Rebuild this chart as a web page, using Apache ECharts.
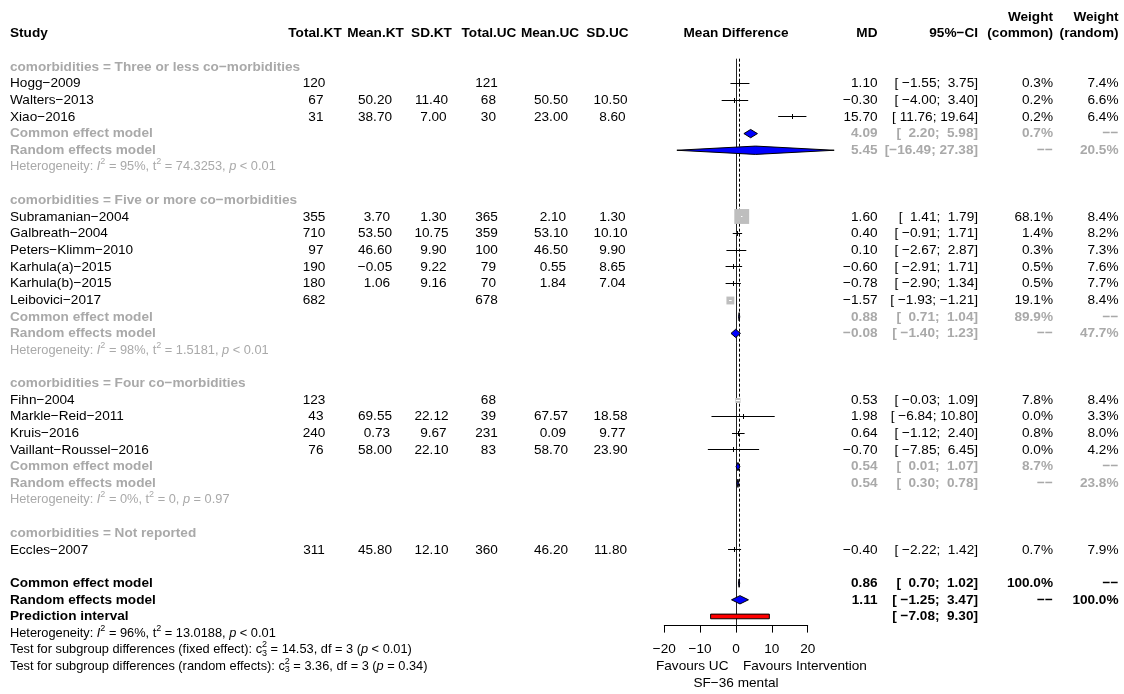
<!DOCTYPE html>
<html>
<head>
<meta charset="utf-8">
<script src="https://cdn.jsdelivr.net/npm/echarts@6/dist/echarts.min.js"></script>
<style>
  html, body { margin: 0; padding: 0; background: #fff; }
  #chart { width: 1124px; height: 694px; }
</style>
</head>
<body>
<div id="chart"></div>
<script>
// ---- Study data: SF-36 mental, mean difference (intervention vs usual care) ----
const groupTitles = ['Three or less co\u2212morbidities', 'Five or more co\u2212morbidities', 'Four co\u2212morbidities', 'Not reported'];
const studyNames = ['Hogg\u22122009', 'Walters\u22122013', 'Xiao\u22122016',
  'Subramanian\u22122004', 'Galbreath\u22122004', 'Peters\u2212Klimm\u22122010', 'Karhula(a)\u22122015', 'Karhula(b)\u22122015', 'Leibovici\u22122017',
  'Fihn\u22122004', 'Markle\u2212Reid\u22122011', 'Kruis\u22122016', 'Vaillant\u2212Roussel\u22122016',
  'Eccles\u22122007'];
const studyGroup = [0, 0, 0, 1, 1, 1, 1, 1, 1, 2, 2, 2, 2, 3];
const totalKT = [120, 67, 31, 355, 710, 97, 190, 180, 682, 123, 43, 240, 76, 311];
const meanKT  = [null, 50.20, 38.70, 3.70, 53.50, 46.60, -0.05, 1.06, null, null, 69.55, 0.73, 58.00, 45.80];
const sdKT    = [null, 11.40, 7.00, 1.30, 10.75, 9.90, 9.22, 9.16, null, null, 22.12, 9.67, 22.10, 12.10];
const totalUC = [121, 68, 30, 365, 359, 100, 79, 70, 678, 68, 39, 231, 83, 360];
const meanUC  = [null, 50.50, 23.00, 2.10, 53.10, 46.50, 0.55, 1.84, null, null, 67.57, 0.09, 58.70, 46.20];
const sdUC    = [null, 10.50, 8.60, 1.30, 10.10, 9.90, 8.65, 7.04, null, null, 18.58, 9.77, 23.90, 11.80];
const md      = [1.10, -0.30, 15.70, 1.60, 0.40, 0.10, -0.60, -0.78, -1.57, 0.53, 1.98, 0.64, -0.70, -0.40];
const ciLow   = [-1.55, -4.00, 11.76, 1.41, -0.91, -2.67, -2.91, -2.90, -1.93, -0.03, -6.84, -1.12, -7.85, -2.22];
const ciHigh  = [3.75, 3.40, 19.64, 1.79, 1.71, 2.87, 1.71, 1.34, -1.21, 1.09, 10.80, 2.40, 6.45, 1.42];
const wCommon = [0.3, 0.2, 0.2, 68.1, 1.4, 0.3, 0.5, 0.5, 19.1, 7.8, 0.0, 0.8, 0.0, 0.7];
const wRandom = [7.4, 6.6, 6.4, 8.4, 8.2, 7.3, 7.6, 7.7, 8.4, 8.4, 3.3, 8.0, 4.2, 7.9];

// subgroup summaries (null: single-study subgroup)
const subCommonMD   = [4.09, 0.88, 0.54, null];
const subCommonLow  = [2.20, 0.71, 0.01, null];
const subCommonHigh = [5.98, 1.04, 1.07, null];
const subCommonW    = [0.7, 89.9, 8.7, null];
const subRandomMD   = [5.45, -0.08, 0.54, null];
const subRandomLow  = [-16.49, -1.40, 0.30, null];
const subRandomHigh = [27.38, 1.23, 0.78, null];
const subRandomW    = [20.5, 47.7, 23.8, null];
const subI2   = [95, 98, 0, null];
const subTau2 = ['74.3253', '1.5181', '0', null];
const subP    = ['< 0.01', '< 0.01', '= 0.97', null];

// overall results
const overallCommon = [0.86, 0.70, 1.02];   // MD, lower, upper
const overallRandom = [1.11, -1.25, 3.47];
const predInterval  = [-7.08, 9.30];
const overallHet    = [96, '13.0188', '< 0.01'];   // I2, tau2, p
const testFixed     = ['14.53', 3, '< 0.01'];       // chi2, df, p
const testRandom    = ['3.36', 3, '= 0.34'];
const xTicks = [-20, -10, 0, 10, 20];

// ---- layout ----
const FONT = '"Liberation Sans", Arial, Helvetica, sans-serif';
const FS = 13.6, FS_SMALL = 12.8, FS_SUP = 9;
const GRAY = '#A9A9A9';
const ROW0 = 67, ROWH = 16.65;          // pixel y of row 0 and row pitch
const Y_MIN = -3, Y_MAX = 33.55;        // row range of the plotting grid
const X_LEFT = 664.3, X_RIGHT = 807.7;  // pixel extent of the x axis
const COL = { study: 10, totalKT: 314, meanKT: 375, sdKT: 431.5, totalUC: 486.5, meanUC: 551, sdUC: 610.5,
              md: 877.5, ci: 978, wCommon: 1053, wRandom: 1118.5 };
const HEAD = { totalKT: 315, meanKT: 375.5, sdKT: 431.5, totalUC: 489, meanUC: 550, sdUC: 607.5 };
const SQ_K = 1.8;   // square side = SQ_K * sqrt(weight)
const TICK_H = 5;   // estimate tick for very small squares

// ---- formatting ----
const MINUS = '\u2212';
const fmt2 = v => (v < 0 ? MINUS : '') + Math.abs(v).toFixed(2);
const fmtW = v => v.toFixed(1) + '%';
const DASH = MINUS + MINUS;
function padCol(arr, f) {
  const s = arr.map(v => v == null ? '' : f(v));
  const w = Math.max(...s.map(t => t.length));
  return s.map(t => t === '' ? '' : t.padStart(w));
}
const colTotalKT = padCol(totalKT, v => String(v));
const colMeanKT = padCol(meanKT, fmt2);
const colSdKT = padCol(sdKT, fmt2);
const colTotalUC = padCol(totalUC, v => String(v));
const colMeanUC = padCol(meanUC, fmt2);
const colSdUC = padCol(sdUC, fmt2);
const allLows = ciLow.concat(subCommonLow, subRandomLow, [overallCommon[1], overallRandom[1], predInterval[0]]).filter(v => v != null);
const allHighs = ciHigh.concat(subCommonHigh, subRandomHigh, [overallCommon[2], overallRandom[2], predInterval[1]]).filter(v => v != null);
const LOW_W = Math.max(...allLows.map(v => fmt2(v).length));
const HIGH_W = Math.max(...allHighs.map(v => fmt2(v).length));
const fmtCI = (lo, hi) => '[' + fmt2(lo).padStart(LOW_W) + '; ' + fmt2(hi).padStart(HIGH_W) + ']';

const hetText = (i2, tau2, p) => `Heterogeneity: {it|I}{sup|2} = ${i2}%, t{sup|2} = ${tau2}, {it|p} ${p}`;
const testText = (kind, t) => `Test for subgroup differences (${kind}): c{sup0|2}{sub|3} = ${t[0]}, df = ${t[1]} ({it|p} ${t[2]})`;

// ---- row structure ----
const textRows = [];     // {row, cells}
const studyMarks = [];   // [md, low, high, row, weight]
const diamonds = [];     // [md, low, high, row]
function cell(x, text, opt) {
  return Object.assign({ x: x, text: text, align: 'left', color: '#000', bold: false, size: FS }, opt || {});
}
const B = { bold: true };
textRows.push({ row: -3, cells: [
  cell(COL.wCommon, 'Weight', { align: 'right', bold: true }),
  cell(COL.wRandom, 'Weight', { align: 'right', bold: true })] });
textRows.push({ row: -2, cells: [
  cell(COL.study, 'Study', B),
  cell(HEAD.totalKT, 'Total.KT', { align: 'center', bold: true }),
  cell(HEAD.meanKT, 'Mean.KT', { align: 'center', bold: true }),
  cell(HEAD.sdKT, 'SD.KT', { align: 'center', bold: true }),
  cell(HEAD.totalUC, 'Total.UC', { align: 'center', bold: true }),
  cell(HEAD.meanUC, 'Mean.UC', { align: 'center', bold: true }),
  cell(HEAD.sdUC, 'SD.UC', { align: 'center', bold: true }),
  cell(null, 'Mean Difference', { xv: 0, dx: 0, align: 'center', bold: true }),
  cell(COL.md, 'MD', { align: 'right', bold: true }),
  cell(COL.ci, '95%' + MINUS + 'CI', { align: 'right', bold: true }),
  cell(COL.wCommon, '(common)', { align: 'right', bold: true }),
  cell(COL.wRandom, '(random)', { align: 'right', bold: true })] });

let r = 0;
groupTitles.forEach((title, g) => {
  textRows.push({ row: r, cells: [cell(COL.study, 'comorbidities = ' + title, { color: GRAY, bold: true })] });
  r++;
  studyNames.forEach((name, i) => {
    if (studyGroup[i] !== g) return;
    textRows.push({ row: r, cells: [
      cell(COL.study, name),
      cell(COL.totalKT, colTotalKT[i], { align: 'center' }),
      cell(COL.meanKT, colMeanKT[i], { align: 'center' }),
      cell(COL.sdKT, colSdKT[i], { align: 'center' }),
      cell(COL.totalUC, colTotalUC[i], { align: 'center' }),
      cell(COL.meanUC, colMeanUC[i], { align: 'center' }),
      cell(COL.sdUC, colSdUC[i], { align: 'center' }),
      cell(COL.md, fmt2(md[i]), { align: 'right' }),
      cell(COL.ci, fmtCI(ciLow[i], ciHigh[i]), { align: 'right' }),
      cell(COL.wCommon, fmtW(wCommon[i]), { align: 'right' }),
      cell(COL.wRandom, fmtW(wRandom[i]), { align: 'right' })] });
    studyMarks.push([md[i], ciLow[i], ciHigh[i], r, wCommon[i]]);
    r++;
  });
  if (subCommonMD[g] != null) {
    const gs = { color: GRAY, bold: true };
    const gr = { color: GRAY, bold: true, align: 'right' };
    textRows.push({ row: r, cells: [
      cell(COL.study, 'Common effect model', gs),
      cell(COL.md, fmt2(subCommonMD[g]), gr),
      cell(COL.ci, fmtCI(subCommonLow[g], subCommonHigh[g]), gr),
      cell(COL.wCommon, fmtW(subCommonW[g]), gr),
      cell(COL.wRandom, DASH, gr)] });
    diamonds.push([subCommonMD[g], subCommonLow[g], subCommonHigh[g], r]);
    r++;
    textRows.push({ row: r, cells: [
      cell(COL.study, 'Random effects model', gs),
      cell(COL.md, fmt2(subRandomMD[g]), gr),
      cell(COL.ci, fmtCI(subRandomLow[g], subRandomHigh[g]), gr),
      cell(COL.wCommon, DASH, gr),
      cell(COL.wRandom, fmtW(subRandomW[g]), gr)] });
    diamonds.push([subRandomMD[g], subRandomLow[g], subRandomHigh[g], r]);
    r++;
    textRows.push({ row: r, cells: [
      cell(COL.study, hetText(subI2[g], subTau2[g], subP[g]), { color: GRAY, size: FS_SMALL, rich: true })] });
    r++;
  }
  r++;  // blank line between subgroups
});

const commonRow = r;
const BR = { bold: true, align: 'right' };
textRows.push({ row: r, cells: [
  cell(COL.study, 'Common effect model', B),
  cell(COL.md, fmt2(overallCommon[0]), BR),
  cell(COL.ci, fmtCI(overallCommon[1], overallCommon[2]), BR),
  cell(COL.wCommon, fmtW(100), BR),
  cell(COL.wRandom, DASH, BR)] });
diamonds.push([overallCommon[0], overallCommon[1], overallCommon[2], r]);
r++;
textRows.push({ row: r, cells: [
  cell(COL.study, 'Random effects model', B),
  cell(COL.md, fmt2(overallRandom[0]), BR),
  cell(COL.ci, fmtCI(overallRandom[1], overallRandom[2]), BR),
  cell(COL.wCommon, DASH, BR),
  cell(COL.wRandom, fmtW(100), BR)] });
diamonds.push([overallRandom[0], overallRandom[1], overallRandom[2], r]);
r++;
const predRow = r;
textRows.push({ row: r, cells: [
  cell(COL.study, 'Prediction interval', B),
  cell(COL.ci, fmtCI(predInterval[0], predInterval[1]), BR)] });
r++;
textRows.push({ row: r, cells: [cell(COL.study, hetText(overallHet[0], overallHet[1], overallHet[2]), { size: FS_SMALL, rich: true })] });
r++;
textRows.push({ row: r, cells: [cell(COL.study, testText('fixed effect', testFixed), { size: FS_SMALL, rich: true })] });
r++;
textRows.push({ row: r, cells: [
  cell(COL.study, testText('random effects', testRandom), { size: FS_SMALL, rich: true }),
  cell(null, 'Favours UC', { xv: 0, dx: -7.5, align: 'right' }),
  cell(null, 'Favours Intervention', { xv: 0, dx: 7, align: 'left' })] });
r++;
textRows.push({ row: r, cells: [cell(null, 'SF' + MINUS + '36 mental', { xv: 0, dx: 0, align: 'center' })] });

// reference lines: no effect (solid) and common effect estimate (dashed)
const refLines = [[0, -0.5, Y_MAX, 0], [overallCommon[0], -0.5, commonRow + 0.25, 1]];

function richStyles(size, color) {
  const base = { fontFamily: FONT, fontSize: size, fill: color };
  return {
    it: Object.assign({}, base, { fontStyle: 'italic' }),
    sup: Object.assign({}, base, { fontSize: FS_SUP, padding: [0, 0, 10, 0] }),
    sup0: Object.assign({}, base, { fontSize: FS_SUP, padding: [0, 0, 10, 0], width: 0 }),
    sub: Object.assign({}, base, { fontSize: FS_SUP, padding: [7, 0, 0, 0] })
  };
}

const crisp = v => Math.round(v - 0.5) + 0.5;

const chart = echarts.init(document.getElementById('chart'), null, { renderer: 'canvas' });
chart.setOption({
  animation: false,
  backgroundColor: '#fff',
  grid: {
    left: X_LEFT, right: 1124 - X_RIGHT,
    top: ROW0 + Y_MIN * ROWH, bottom: 694 - (ROW0 + Y_MAX * ROWH)
  },
  xAxis: {
    type: 'value', min: xTicks[0], max: xTicks[xTicks.length - 1], interval: xTicks[1] - xTicks[0],
    axisLine: { onZero: false, lineStyle: { color: '#000', width: 1 } },
    axisTick: { length: 7, lineStyle: { color: '#000', width: 1 } },
    axisLabel: { fontSize: FS, fontFamily: FONT, color: '#000', margin: 17,
      formatter: v => (v < 0 ? MINUS : '') + Math.abs(v) },
    splitLine: { show: false }
  },
  yAxis: { type: 'value', inverse: true, min: Y_MIN, max: Y_MAX, show: false, splitLine: { show: false } },
  series: [
    {
      type: 'custom', name: 'reference', clip: false, z: 1,
      data: refLines,
      renderItem: (params, api) => {
        const p1 = api.coord([api.value(0), api.value(1)]);
        const p2 = api.coord([api.value(0), api.value(2)]);
        const dashed = api.value(3) === 1;
        const x = crisp(p1[0]);
        return { type: 'line', shape: { x1: x, y1: p1[1], x2: x, y2: p2[1] },
          style: { stroke: dashed ? '#000' : '#222', lineWidth: 1, lineDash: dashed ? [3, 2] : null } };
      }
    },
    {
      type: 'custom', name: 'studies', clip: false, z: 2,
      data: studyMarks,
      renderItem: (params, api) => {
        const row = api.value(3);
        const c = api.coord([api.value(0), row]);
        const l = api.coord([api.value(1), row]);
        const h = api.coord([api.value(2), row]);
        const side = SQ_K * Math.sqrt(api.value(4));
        const inside = l[0] >= c[0] - side / 2 && h[0] <= c[0] + side / 2;
        const y = crisp(c[1]);
        const children = [
          { type: 'rect', shape: { x: c[0] - side / 2, y: y - side / 2, width: side, height: side },
            style: { fill: '#BEBEBE', stroke: null } },
          { type: 'line', shape: { x1: l[0], y1: y, x2: h[0], y2: y },
            style: { stroke: inside ? '#fff' : '#000', lineWidth: 1 } }
        ];
        if (side < 3) {
          const x = crisp(c[0]);
          children.push({ type: 'line', shape: { x1: x, y1: y - TICK_H / 2, x2: x, y2: y + TICK_H / 2 },
            style: { stroke: '#000', lineWidth: 1 } });
        }
        return { type: 'group', children: children };
      }
    },
    {
      type: 'custom', name: 'diamonds', clip: false, z: 3,
      data: diamonds,
      renderItem: (params, api) => {
        const row = api.value(3);
        const c = api.coord([api.value(0), row]);
        const l = api.coord([api.value(1), row]);
        const h = api.coord([api.value(2), row]);
        const hh = api.size([0, 0.25])[1];
        return { type: 'polygon',
          shape: { points: [[l[0], c[1]], [c[0], c[1] - hh], [h[0], c[1]], [c[0], c[1] + hh]] },
          style: { fill: '#0000FF', stroke: '#000', lineWidth: 1 } };
      }
    },
    {
      type: 'custom', name: 'prediction', clip: false, z: 3,
      data: [[predInterval[0], predInterval[1], predRow]],
      renderItem: (params, api) => {
        const l = api.coord([api.value(0), api.value(2)]);
        const h = api.coord([api.value(1), api.value(2)]);
        const hh = api.size([0, 0.14])[1];
        return { type: 'rect', shape: { x: l[0], y: l[1] - hh, width: h[0] - l[0], height: 2 * hh },
          style: { fill: '#FF0000', stroke: '#000', lineWidth: 1 } };
      }
    },
    {
      type: 'custom', name: 'table', clip: false, z: 4, silent: true,
      data: textRows.map(t => [0, t.row]),
      renderItem: (params, api) => {
        const item = textRows[params.dataIndex];
        const y = api.coord([0, item.row])[1];
        const children = item.cells.filter(c => c.text !== '').map(c => {
          const x = c.xv != null ? api.coord([c.xv, item.row])[0] + c.dx : c.x;
          const style = {
            text: c.text, fill: c.color, fontSize: c.size, fontFamily: FONT,
            fontWeight: c.bold ? 'bold' : 'normal', align: c.align, verticalAlign: 'middle'
          };
          if (c.rich) style.rich = richStyles(c.size, c.color);
          return { type: 'text', x: x, y: y, style: style };
        });
        return { type: 'group', children: children };
      }
    }
  ]
});
</script>
</body>
</html>
